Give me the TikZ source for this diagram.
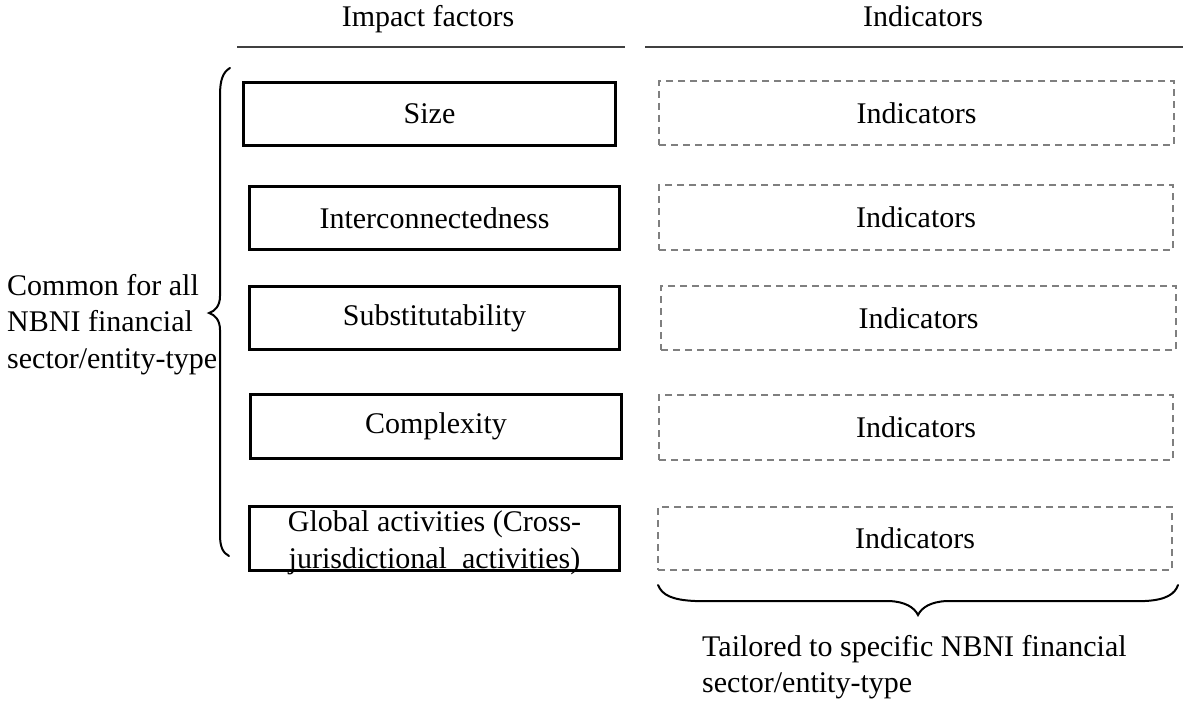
\documentclass[tikz,border=0pt]{standalone}
\usepackage{fontspec}
\setmainfont{Liberation Serif}
\definecolor{dashgray}{HTML}{7F7F7F}
\definecolor{rulegray}{HTML}{404040}
\begin{document}
\begin{tikzpicture}[x=1pt,y=-1pt,
  every node/.style={font=\fontsize{30}{36.5}\selectfont, inner sep=0pt, text=black},
  factorbox/.style={draw=black, line width=3pt, rectangle},
  indbox/.style={draw=dashgray, dash pattern=on 7pt off 5pt, line width=2pt, rectangle},
  hdrline/.style={line width=2pt, draw=rulegray},
  bracestyle/.style={line width=2pt, draw=black, line cap=round}]
\useasboundingbox (0,0) rectangle (1183,706);
\fill[white] (0,0) rectangle (1183,706);

% headers
\node[anchor=base] (hImpact) at (428,27) {Impact factors};
\node[anchor=base] (hInd) at (923,27) {Indicators};
\draw[hdrline] (237,47) -- (625,47);
\draw[hdrline] (645,47) -- (1183,47);

% impact factor boxes
\node[factorbox, minimum width=372pt, minimum height=63pt] (size) at (429.5,114) {Size};
\node[factorbox, minimum width=370pt, minimum height=63pt] (inter) at (434.5,218) {Interconnectedness};
\node[factorbox, minimum width=370pt, minimum height=63pt] (subst) at (434.5,318) {Substitutability};
\node[factorbox, minimum width=371pt, minimum height=64pt] (compl) at (436,426.5) {Complexity};
\node[factorbox, minimum width=370pt, minimum height=64pt] (global) at (434.5,538.5) {};
\node[align=center] (globaltext) at (434.5,543) {Global activities (Cross-\\jurisdictional\ \ activities)};

% indicator boxes
\node[indbox, minimum width=515pt, minimum height=64pt] (ind1) at (916.5,113) {Indicators};
\node[indbox, minimum width=514pt, minimum height=65pt] (ind2) at (916,217.5) {Indicators};
\node[indbox, minimum width=515pt, minimum height=64pt] (ind3) at (918.5,318) {Indicators};
\node[indbox, minimum width=514pt, minimum height=65pt] (ind4) at (916,427.5) {Indicators};
\node[indbox, minimum width=514pt, minimum height=63pt] (ind5) at (915,538.5) {Indicators};

% left brace
\draw[bracestyle] (230,68) .. controls (223,72) and (220,80) .. (220,95)
  -- (220,296) .. controls (220,306) and (215,311) .. (209,313)
  .. controls (215,315) and (220,320) .. (220,330)
  -- (220,535) .. controls (220,547) and (223,553) .. (229,556);
\node[anchor=north west, align=left] (common) at (7,274) {Common\ for all\\NBNI financial\\sector/entity-type};

% bottom brace
\draw[bracestyle] (658,585) .. controls (662,595) and (672,600) .. (695,601)
  -- (890,601) .. controls (905,602) and (914,607) .. (918,615)
  .. controls (922,607) and (931,602) .. (946,601)
  -- (1145,601) .. controls (1166,600) and (1175,594) .. (1178,585);
\node[anchor=north west, align=left] (tailored) at (702,635) {Tailored to specific NBNI financial\\sector/entity-type};
\end{tikzpicture}
\end{document}
